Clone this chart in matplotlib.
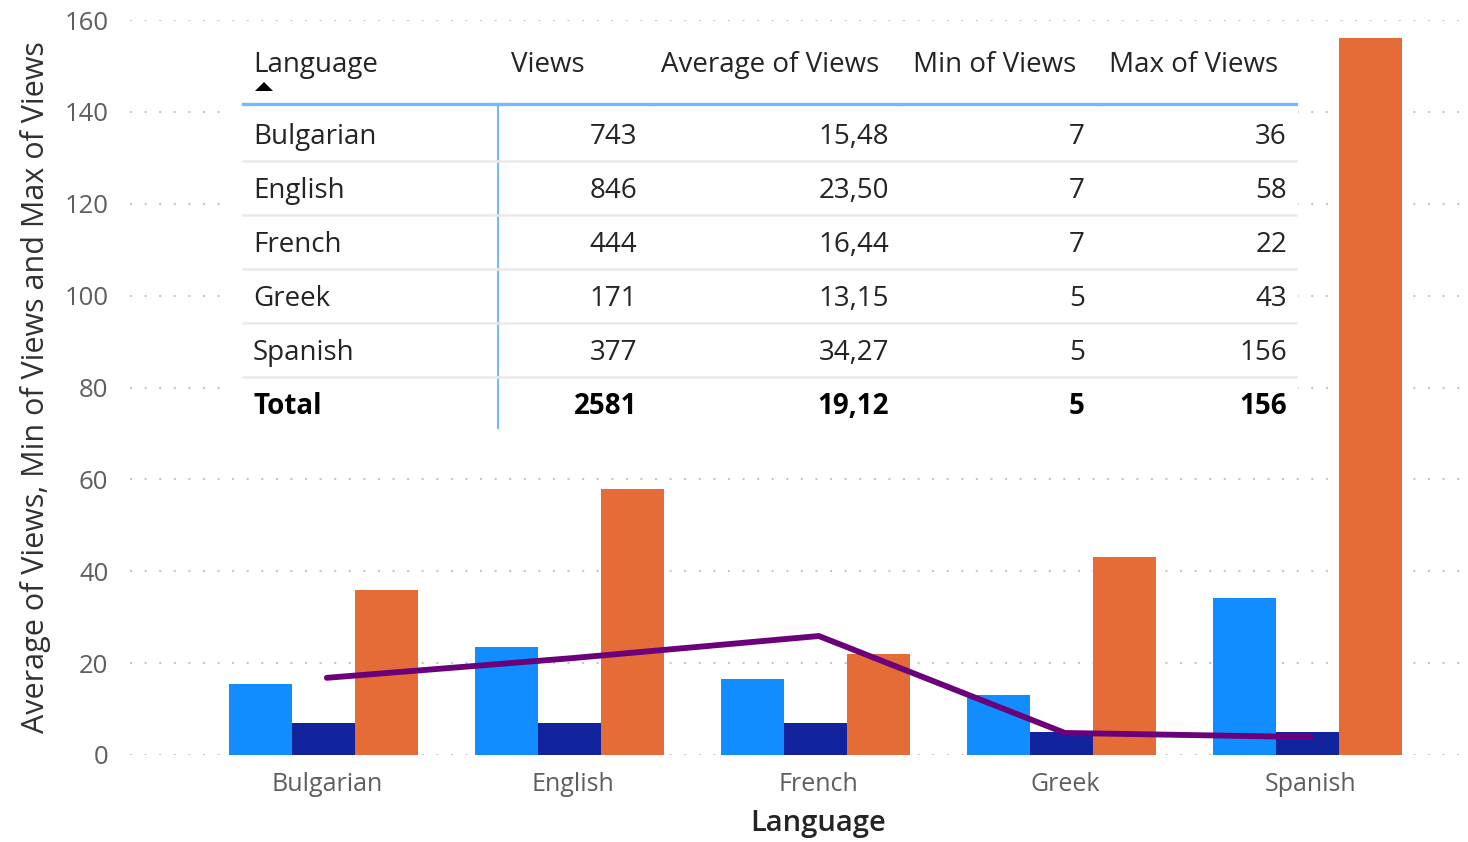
import matplotlib
matplotlib.use("Agg")
import matplotlib.pyplot as plt
import numpy as np
from matplotlib.patches import Rectangle, Polygon
from matplotlib.lines import Line2D

# ---------------- data ----------------
languages = ["Bulgarian", "English", "French", "Greek", "Spanish"]
avg_views = [15.48, 23.50, 16.44, 13.15, 34.27]
min_views = [7, 7, 7, 5, 5]
max_views = [36, 58, 22, 43, 156]
line_values = [16.8, 21.1, 25.9, 4.8, 3.9]
views = [743, 846, 444, 171, 377]
total_views = 2581
total_avg = 19.12
total_min = 5
total_max = 156
y_ticks = [0, 20, 40, 60, 80, 100, 120, 140, 160]
table_headers = ["Language", "Views", "Average of Views", "Min of Views", "Max of Views"]

# ---------------- style ----------------
C_AVG = "#118DFF"
C_MIN = "#12239E"
C_MAX = "#E66C37"
C_LINE = "#6B007B"
FONT = "Open Sans"

W, H = 1468, 842
fig = plt.figure(figsize=(W / 100, H / 100), dpi=100)
fig.patch.set_facecolor("white")


def fx(x):
    return x / W


def fy(y):
    return 1 - y / H


ax = fig.add_axes([fx(130), fy(755), fx(1460) - fx(130), fy(20) - fy(755)])
x = np.arange(len(languages))
bw = 0.256
grp = x - 0.014
ax.bar(grp - bw, avg_views, bw, color=C_AVG, zorder=2)
ax.bar(grp, min_views, bw, color=C_MIN, zorder=2)
ax.bar(grp + bw, max_views, bw, color=C_MAX, zorder=2)
ax.plot(x, line_values, color=C_LINE, lw=4.2, solid_capstyle="round",
        solid_joinstyle="miter", zorder=3)

ax.set_xlim(-0.80, 4.606)
ax.set_ylim(0, 160)
ax.set_yticks(y_ticks)
ax.set_xticks(x)
ax.set_xticklabels(languages)
for s in ax.spines.values():
    s.set_visible(False)
ax.tick_params(length=0)
ax.tick_params(axis="x", labelsize=18, labelcolor="#605E5C", pad=12)
ax.tick_params(axis="y", labelsize=18.5, labelcolor="#605E5C", pad=15.5)
for lab in ax.get_xticklabels() + ax.get_yticklabels():
    lab.set_fontfamily(FONT)
ax.yaxis.grid(True, color="#C8C6C4", linestyle=(0, (1, 6)), linewidth=1.5)
ax.set_axisbelow(True)
ax.set_xlabel("Language", fontsize=21, color="#252423", fontfamily=FONT,
              fontweight="semibold")
ax.xaxis.set_label_coords((818 - 130) / 1330, -(838 - 755) / 735, transform=ax.transAxes)
ax.xaxis.label.set_va("bottom")
ax.set_ylabel("Average of Views, Min of Views and Max of Views", fontsize=22,
              color="#323130", fontfamily=FONT)
ax.yaxis.set_label_coords(-(130 - 20) / 1330, 0.5)
ax.yaxis.label.set_va("top")

# ---------------- table overlay ----------------
fig.add_artist(Rectangle((fx(232), fy(432)), fx(1298) - fx(232), fy(30) - fy(432),
                         transform=fig.transFigure, facecolor="white",
                         edgecolor="none", zorder=1))

TFS = 20
TC = "#252423"
header_x = [253, 511, 661, 913, 1109]
for hx, h in zip(header_x, table_headers):
    fig.text(fx(hx), fy(65), h, ha="left", va="center", fontsize=TFS,
             color=TC, fontfamily=FONT, zorder=4)
# sort arrow
fig.add_artist(Polygon([(fx(255), fy(91)), (fx(273), fy(91)), (fx(264), fy(82))],
                       closed=True, transform=fig.transFigure, facecolor="black",
                       edgecolor="none", zorder=4))

# header line segments (with small gaps between columns)
col_bounds = [242, 498, 648, 900, 1096, 1297]
for a, b in zip(col_bounds[:-1], col_bounds[1:]):
    fig.add_artist(Line2D([fx(a + 1), fx(b - 1)], [fy(104), fy(104)],
                          transform=fig.transFigure, color="#77B7FF", lw=2.4, zorder=4))
# vertical line
fig.add_artist(Line2D([fx(498), fx(498)], [fy(105), fy(428)],
                      transform=fig.transFigure, color="#77B7FF", lw=1.5, zorder=4))

right_x = [637, 889, 1085, 1287]
row_y = [135, 189, 243, 297, 351]


def fmt_dec(v):
    return f"{v:.2f}".replace(".", ",")


for i, lang in enumerate(languages):
    yy = row_y[i]
    fig.text(fx(253), fy(yy + 2), lang, ha="left", va="center", fontsize=TFS,
             color=TC, fontfamily=FONT, zorder=4)
    vals = [str(views[i]), fmt_dec(avg_views[i]), str(min_views[i]), str(max_views[i])]
    for rx, v in zip(right_x, vals):
        fig.text(fx(rx), fy(yy + 2), v, ha="right", va="center", fontsize=TFS,
                 color=TC, fontfamily=FONT, zorder=4)
    # row separator
    sep = yy + 26
    for a, b in zip(col_bounds[:-1], col_bounds[1:]):
        fig.add_artist(Line2D([fx(a + 1), fx(b - 1)], [fy(sep), fy(sep)],
                              transform=fig.transFigure, color="#EDEBE9", lw=1.8, zorder=4))

yy = 405
fig.text(fx(253), fy(yy + 2), "Total", ha="left", va="center", fontsize=TFS,
         color="black", fontfamily=FONT, fontweight="bold", zorder=4)
tot_vals = [str(total_views), fmt_dec(total_avg), str(total_min), str(total_max)]
for rx, v in zip(right_x, tot_vals):
    fig.text(fx(rx), fy(yy + 2), v, ha="right", va="center", fontsize=TFS,
             color="black", fontfamily=FONT, fontweight="bold", zorder=4)

fig.savefig("out.png", dpi=100, facecolor="white")
